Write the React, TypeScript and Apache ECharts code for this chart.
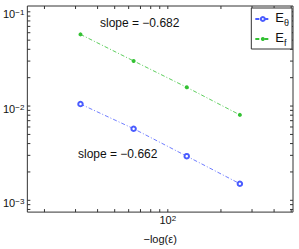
import React, { useEffect, useRef } from 'react';
import * as echarts from 'echarts';

const xValues = [32, 64, 128, 256];
const eTheta = [0.0105, 0.00575, 0.00294, 0.0015];
const eF = [0.0576, 0.0301, 0.0158, 0.00806];
const seriesNames = ['E_theta', 'E_f'];
const xLimits = [16, 512];
const yLimits = [0.00075, 0.1152];
const xMajorTicks = [100];
const xMinorTicks = [20, 30, 40, 50, 60, 70, 80, 90, 200, 300, 400, 500];
const yMajorTicks = [0.001, 0.01, 0.1];
const yMinorTicks = [
  0.0008, 0.0009,
  0.002, 0.003, 0.004, 0.005, 0.006, 0.007, 0.008, 0.009,
  0.02, 0.03, 0.04, 0.05, 0.06, 0.07, 0.08, 0.09,
];
const slopeLabels = ['slope = \u22120.682', 'slope = \u22120.662'];
const xAxisName = '\u2212log(\u03b5)';

const FONT = 'Liberation Sans, Arial, Helvetica, sans-serif';
const AXIS_COLOR = '#333';
const BLUE = '#4a5cff';
const GREEN = '#33c133';
const TICK_LEN = 3;

const powLabel = (v: number) => {
  const e = Math.round(Math.log10(v));
  const s = e < 0 ? '\u2212' + Math.abs(e) : String(e);
  return `{b|10}{s|${s}}`;
};

const powRich = {
  b: { fontSize: 11, lineHeight: 11, verticalAlign: 'bottom', fontFamily: FONT, color: '#111' },
  s: { fontSize: 8, lineHeight: 8, verticalAlign: 'top', padding: [0, 0, 6, 0], fontFamily: FONT, color: '#111' },
};

export default function App() {
  const ref = useRef<HTMLDivElement>(null);
  useEffect(() => {
    if (!ref.current) return;
    const chart = echarts.init(ref.current, undefined, { renderer: 'svg' });
    const xTicks = [...xMajorTicks, ...xMinorTicks];
    const yTicks = [...yMajorTicks, ...yMinorTicks];
    const tickStyle = { stroke: AXIS_COLOR, lineWidth: 1 };
    chart.setOption({
      animation: false,
      backgroundColor: '#fff',
      grid: {
        left: 25, right: 6, top: 6, bottom: 32,
        show: true, borderColor: AXIS_COLOR, borderWidth: 1, backgroundColor: 'transparent',
      },
      xAxis: {
        type: 'log', logBase: 10, min: xLimits[0], max: xLimits[1],
        axisLine: { show: false }, axisTick: { show: false }, splitLine: { show: false },
        axisLabel: {
          formatter: powLabel, rich: powRich, margin: 2,
          showMinLabel: false, showMaxLabel: false,
        },
        name: xAxisName, nameLocation: 'middle', nameGap: 20,
        nameTextStyle: { fontSize: 11, fontFamily: FONT, color: '#111' },
      },
      yAxis: {
        type: 'log', logBase: 10, min: yLimits[0], max: yLimits[1],
        axisLine: { show: false }, axisTick: { show: false }, splitLine: { show: false },
        axisLabel: {
          formatter: powLabel, rich: powRich, margin: 3, padding: [5, 0, 0, 0],
          showMinLabel: false, showMaxLabel: false,
        },
      },
      legend: {
        data: seriesNames,
        orient: 'vertical', right: 7, top: 8,
        backgroundColor: '#fff', borderColor: AXIS_COLOR, borderWidth: 1,
        padding: [3, 3, 2, 3], itemGap: 4, itemWidth: 15, itemHeight: 5,
        formatter: (name: string) => (name === 'E_theta' ? '{m|E}{s|\u03b8}' : '{m|E}{s|f}'),
        textStyle: {
          rich: {
            m: { fontSize: 13, lineHeight: 13, verticalAlign: 'top', fontFamily: FONT, color: '#111' },
            s: { fontSize: 9, verticalAlign: 'bottom', padding: [7, 0, 0, 0], fontFamily: FONT, color: '#111' },
          },
        },
      },
      graphic: [
        { type: 'text', left: 100, top: 17, style: { text: slopeLabels[0], font: `12px ${FONT}`, fill: '#111' } },
        { type: 'text', left: 78, top: 148, style: { text: slopeLabels[1], font: `12px ${FONT}`, fill: '#111' } },
      ],
      series: [
        {
          name: seriesNames[0], type: 'line',
          data: xValues.map((x, i) => [x, eTheta[i]]),
          symbol: 'emptyCircle', symbolSize: 4.5,
          lineStyle: { color: BLUE, width: 0.8, type: [4, 2, 1, 2] },
          itemStyle: { color: BLUE, borderColor: BLUE, borderWidth: 0.7 },
        },
        {
          name: seriesNames[1], type: 'line',
          data: xValues.map((x, i) => [x, eF[i]]),
          symbol: 'circle', symbolSize: 4,
          lineStyle: { color: GREEN, width: 0.8, type: [4, 2, 1, 2] },
          itemStyle: { color: GREEN },
        },
        {
          type: 'custom', silent: true, clip: false,
          data: xTicks.map((v) => [v, yLimits[0]]),
          renderItem: (params: any, api: any) => {
            const cs = params.coordSys;
            const px = api.coord([api.value(0), api.value(1)])[0];
            const b = cs.y + cs.height;
            return {
              type: 'group',
              children: [
                { type: 'line', shape: { x1: px, y1: b, x2: px, y2: b - TICK_LEN }, style: tickStyle },
                { type: 'line', shape: { x1: px, y1: cs.y, x2: px, y2: cs.y + TICK_LEN }, style: tickStyle },
              ],
            };
          },
        },
        {
          type: 'custom', silent: true, clip: false,
          data: yTicks.map((v) => [xLimits[0], v]),
          renderItem: (params: any, api: any) => {
            const cs = params.coordSys;
            const py = api.coord([api.value(0), api.value(1)])[1];
            const r = cs.x + cs.width;
            return {
              type: 'group',
              children: [
                { type: 'line', shape: { x1: cs.x, y1: py, x2: cs.x + TICK_LEN, y2: py }, style: tickStyle },
                { type: 'line', shape: { x1: r, y1: py, x2: r - TICK_LEN, y2: py }, style: tickStyle },
              ],
            };
          },
        },
      ],
    });
    return () => chart.dispose();
  }, []);
  return <div ref={ref} style={{ position: 'fixed', left: 0, top: 0, width: 299, height: 249 }} />;
}
